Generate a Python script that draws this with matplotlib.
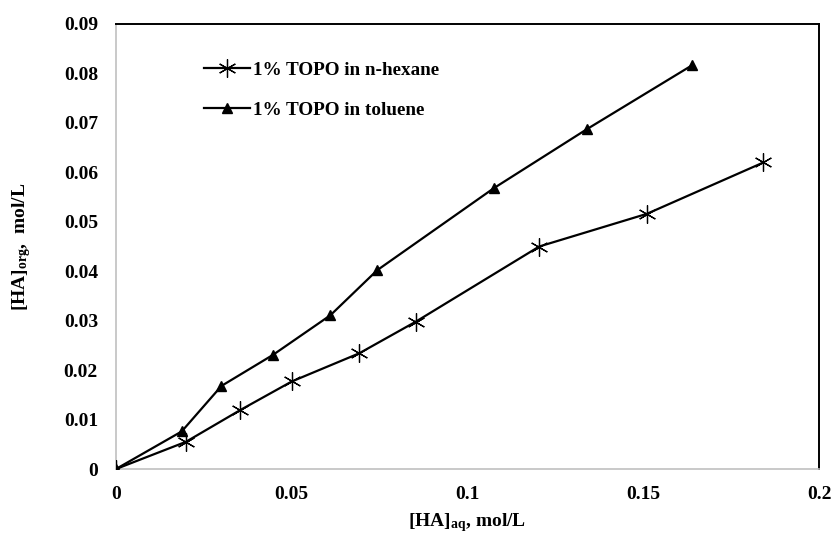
import matplotlib
matplotlib.use("Agg")
import matplotlib.pyplot as plt

plt.rcParams['font.family'] = ['Liberation Serif', 'DejaVu Serif']
plt.rcParams['font.weight'] = 'bold'
plt.rcParams['mathtext.fontset'] = 'custom'
plt.rcParams['mathtext.rm'] = 'Liberation Serif:bold'
plt.rcParams['mathtext.it'] = 'Liberation Serif:bold'
plt.rcParams['mathtext.bf'] = 'Liberation Serif:bold'

# Equilibrium concentrations of the acid (aqueous vs organic phase)
hexane_aq = [0.0, 0.0199, 0.0353, 0.0500, 0.0692, 0.0853, 0.1204, 0.1510, 0.1842]
hexane_org = [0.0, 0.0055, 0.0119, 0.0177, 0.0234, 0.0298, 0.0450, 0.0516, 0.0620]

toluene_aq = [0.0, 0.0187, 0.0300, 0.0447, 0.0610, 0.0743, 0.1075, 0.1339, 0.1640]
toluene_org = [0.0, 0.0076, 0.0168, 0.0231, 0.0311, 0.0402, 0.0568, 0.0687, 0.0817]

series_labels = ['1% TOPO in n-hexane', '1% TOPO in toluene']
x_ticks = [0, 0.05, 0.1, 0.15, 0.2]
x_tick_labels = ['0', '0.05', '0.1', '0.15', '0.2']
y_ticks = [0, 0.01, 0.02, 0.03, 0.04, 0.05, 0.06, 0.07, 0.08, 0.09]
y_tick_labels = ['0', '0.01', '0.02', '0.03', '0.04', '0.05', '0.06', '0.07', '0.08', '0.09']

fig = plt.figure(figsize=(8.33, 5.35), dpi=100)
ax = fig.add_axes([116 / 833, 1 - 469 / 535, (819 - 116) / 833, (469 - 24) / 535])

ax.plot(hexane_aq, hexane_org, color='black', lw=1.6,
        marker=(6, 2, 0), markersize=13, markeredgewidth=0.9,
        label=series_labels[0], zorder=3)
ax.plot(toluene_aq, toluene_org, color='black', lw=1.6,
        marker='^', markersize=7.5, label=series_labels[1], zorder=3)

ax.set_xlim(0, 0.2)
ax.set_ylim(0, 0.09)
ax.set_xticks(x_ticks)
ax.set_xticklabels(x_tick_labels)
ax.set_yticks(y_ticks)
ax.set_yticklabels(y_tick_labels)
ax.tick_params(axis='both', length=0, labelsize=14)
ax.tick_params(axis='x', pad=12)
ax.tick_params(axis='y', pad=13)
for lab in ax.get_xticklabels() + ax.get_yticklabels():
    lab.set_fontweight('bold')

ax.spines['left'].set_color('#c0c0c0')
ax.spines['bottom'].set_color('#c0c0c0')
ax.spines['left'].set_linewidth(1.2)
ax.spines['bottom'].set_linewidth(1.2)
ax.spines['top'].set_color('black')
ax.spines['right'].set_color('black')
ax.spines['top'].set_linewidth(1.4)
ax.spines['right'].set_linewidth(1.4)

ax.set_xlabel(r'[HA]$_{\mathrm{aq}}$, mol/L', fontsize=14, fontweight='bold', labelpad=6)
ax.set_ylabel(r'[HA]$_{\mathrm{org}}$,  mol/L', fontsize=14, fontweight='bold', labelpad=22)

leg = ax.legend(loc='upper left', bbox_to_anchor=(0.1, 0.955), frameon=False,
                fontsize=13.8, handlelength=2.4, labelspacing=1.2, handletextpad=0.2)
for t in leg.get_texts():
    t.set_fontweight('bold')

fig.savefig('out.png', dpi=100)
